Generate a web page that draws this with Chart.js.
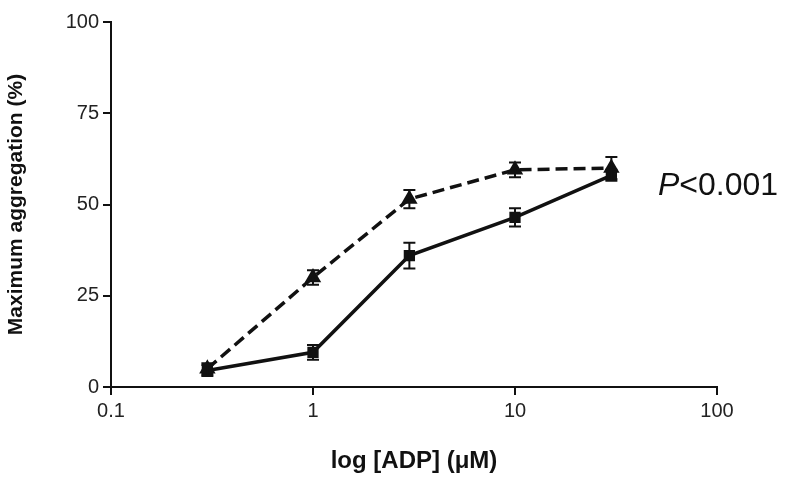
<!DOCTYPE html>
<html>
<head>
<meta charset="utf-8">
<script src="https://cdn.jsdelivr.net/npm/chart.js@4"></script>
<style>body{margin:0;background:#fff}#c{display:block}</style>
</head>
<body>
<canvas id="c" width="800" height="480"></canvas>
<script>
// ADP concentrations (uM)
var adp = [0.3, 1, 3, 10, 30];
var triMean = [5, 30, 51.5, 59.5, 60];
var triErr = [1.5, 2, 2.5, 2, 3];
var sqMean = [4.5, 9.5, 36, 46.5, 58];
var sqErr = [1.5, 2, 3.5, 2.5, 1.5];
var xTicks = [0.1, 1, 10, 100];
var yTicks = [0, 25, 50, 75, 100];

function pts(xs, ys) { return xs.map(function (x, i) { return { x: x, y: ys[i] }; }); }

var errPlugin = {
  id: "errbars",
  afterDatasetsDraw: function (chart) {
    var ctx = chart.ctx, xs = chart.scales.x, ys = chart.scales.y;
    var errs = [triErr, sqErr];
    ctx.save();
    ctx.strokeStyle = "#111";
    ctx.lineWidth = 2;
    chart.data.datasets.forEach(function (ds, d) {
      ds.data.forEach(function (p, i) {
        var px = xs.getPixelForValue(p.x);
        var top = ys.getPixelForValue(p.y + errs[d][i]);
        var bot = ys.getPixelForValue(p.y - errs[d][i]);
        ctx.beginPath();
        ctx.moveTo(px, top); ctx.lineTo(px, bot);
        ctx.moveTo(px - 6, top); ctx.lineTo(px + 6, top);
        ctx.moveTo(px - 6, bot); ctx.lineTo(px + 6, bot);
        ctx.stroke();
      });
    });
    // P value annotation
    ctx.fillStyle = "#111";
    ctx.textBaseline = "middle";
    ctx.font = "italic 32px Arial";
    ctx.fillText("P", 658, 186);
    var w = ctx.measureText("P").width;
    ctx.font = "32px Arial";
    ctx.fillText("<0.001", 658 + w, 186);
    ctx.restore();
  }
};

new Chart(document.getElementById("c").getContext("2d"), {
  type: "line",
  data: {
    datasets: [
      {
        data: pts(adp, triMean),
        borderColor: "#111", backgroundColor: "#111",
        borderWidth: 3.5, borderDash: [12, 6],
        pointStyle: "triangle", pointRadius: 6
      },
      {
        data: pts(adp, sqMean),
        borderColor: "#111", backgroundColor: "#111",
        borderWidth: 3.5,
        pointStyle: "rect", pointRadius: 5.5
      }
    ]
  },
  options: {
    responsive: false,
    animation: false,
    layout: { padding: { top: 22, right: 83 } },
    plugins: { legend: { display: false }, tooltip: { enabled: false } },
    scales: {
      x: {
        type: "logarithmic", min: 0.1, max: 100,
        afterBuildTicks: function (s) { s.ticks = xTicks.map(function (v) { return { value: v }; }); },
        afterFit: function (s) { s.height = 93; },
        ticks: { color: "#222", font: { family: "Arial", size: 20 }, callback: function (v) { return String(v); }, padding: 4 },
        grid: { display: true, drawOnChartArea: false, drawTicks: true, tickLength: 8, color: "#111", lineWidth: 2 },
        border: { color: "#111", width: 2 },
        title: { display: true, text: "log [ADP] (\u03bcM)", color: "#111", font: { family: "Arial", size: 24, weight: "bold" }, padding: { top: 10 } }
      },
      y: {
        min: 0, max: 100,
        afterBuildTicks: function (s) { s.ticks = yTicks.map(function (v) { return { value: v }; }); },
        afterFit: function (s) { s.width = 111; },
        ticks: { color: "#222", font: { family: "Arial", size: 20 }, padding: 4 },
        grid: { display: true, drawOnChartArea: false, drawTicks: true, tickLength: 8, color: "#111", lineWidth: 2 },
        border: { color: "#111", width: 2 },
        title: { display: true, text: "Maximum aggregation (%)", color: "#111", font: { family: "Arial", size: 21, weight: "bold" }, padding: { bottom: 4 } }
      }
    }
  },
  plugins: [errPlugin]
});
</script>
</body>
</html>
